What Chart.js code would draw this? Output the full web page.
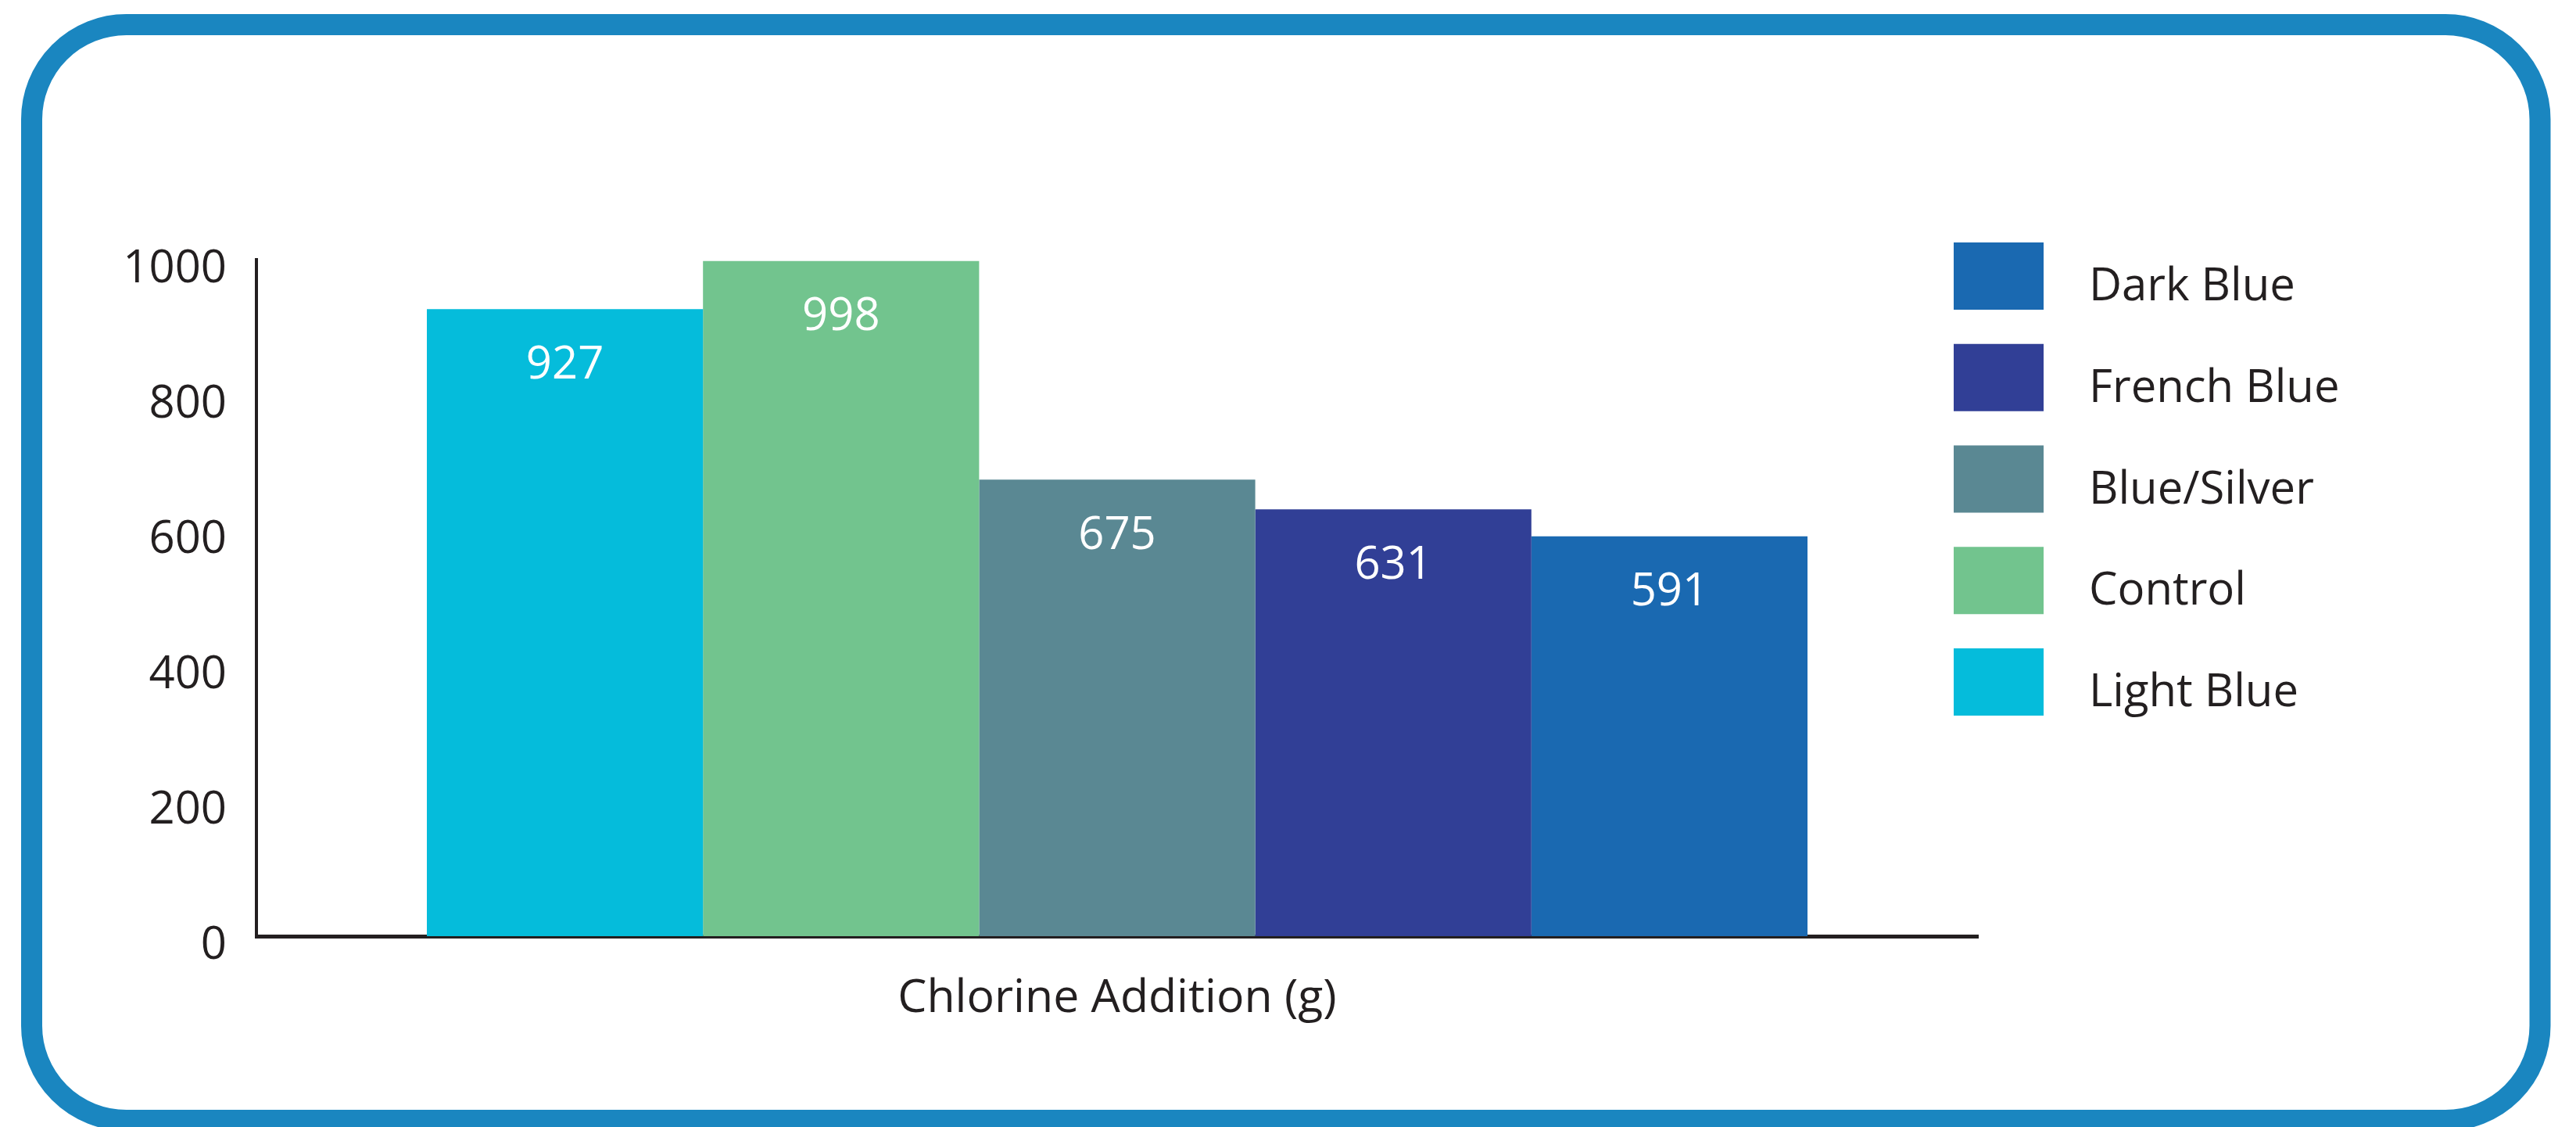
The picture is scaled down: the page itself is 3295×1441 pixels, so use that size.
<!DOCTYPE html>
<html>
<head>
<meta charset="utf-8">
<script src="https://cdn.jsdelivr.net/npm/chart.js@4.4.1/dist/chart.umd.min.js"></script>
<style>
  html, body { margin: 0; padding: 0; background: #ffffff; }
  canvas { display: block; }
</style>
</head>
<body>
<canvas id="c" width="3295" height="1441"></canvas>
<script>
const categories = ['Chlorine Addition (g)'];
const seriesNames = ['Light Blue', 'Control', 'Blue/Silver', 'French Blue', 'Dark Blue'];
const seriesValues = [927, 998, 675, 631, 591];
const seriesColors = ['#05bcdb', '#72c48e', '#5a8893', '#313f96', '#1a69b1'];
const yTickValues = [0, 200, 400, 600, 800, 1000];
const yTickLabels = ['0', '200', '400', '600', '800', '1000'];

const TEXT = '#231f20';
const FONT = 'Open Sans';

const frame = {
  id: 'frame',
  beforeDraw(chart) {
    const ctx = chart.ctx;
    ctx.save();
    ctx.fillStyle = '#ffffff';
    ctx.fillRect(0, 0, chart.width, chart.height);
    ctx.strokeStyle = '#1a86c0';
    ctx.lineWidth = 27;
    ctx.beginPath();
    ctx.roundRect(40.5, 31.5, 3249 - 40.5, 1432.5 - 31.5, 121);
    ctx.stroke();
    ctx.restore();
  }
};

const valueLabels = {
  id: 'valueLabels',
  afterDatasetsDraw(chart) {
    const ctx = chart.ctx;
    ctx.save();
    ctx.fillStyle = '#ffffff';
    ctx.font = '58px "' + FONT + '"';
    ctx.textAlign = 'center';
    ctx.textBaseline = 'middle';
    chart.data.datasets.forEach((ds, i) => {
      const meta = chart.getDatasetMeta(i);
      meta.data.forEach((bar, j) => {
        ctx.fillText(String(ds.data[j]), bar.x, bar.y + 72);
      });
    });
    ctx.restore();
  }
};

const sideLegend = {
  id: 'sideLegend',
  afterDraw(chart) {
    const ctx = chart.ctx;
    ctx.save();
    const n = chart.data.datasets.length;
    ctx.font = '58px "' + FONT + '"';
    ctx.textAlign = 'left';
    ctx.textBaseline = 'alphabetic';
    for (let k = 0; k < n; k++) {
      const ds = chart.data.datasets[n - 1 - k];
      const top = 310 + k * 129.75;
      ctx.fillStyle = ds.backgroundColor;
      ctx.fillRect(2499, top, 115, 86);
      ctx.fillStyle = TEXT;
      ctx.fillText(ds.label, 2672, top + 74);
    }
    ctx.restore();
  }
};

new Chart(document.getElementById('c'), {
  type: 'bar',
  data: {
    labels: categories,
    datasets: seriesNames.map((name, i) => ({
      label: name,
      data: [seriesValues[i]],
      backgroundColor: seriesColors[i],
      borderWidth: 0
    }))
  },
  options: {
    responsive: false,
    devicePixelRatio: 1,
    animation: false,
    events: [],
    layout: { padding: { left: 0, right: 765, top: 332, bottom: 0 } },
    datasets: { bar: { categoryPercentage: 0.802, barPercentage: 1.0 } },
    plugins: {
      legend: { display: false },
      tooltip: { enabled: false },
      title: { display: false }
    },
    scales: {
      x: {
        grid: { display: false, drawTicks: false },
        border: { display: true, color: TEXT, width: 5 },
        ticks: { color: TEXT, font: { family: FONT, size: 59 }, padding: 45 },
        afterFit(s) { s.height = 244; }
      },
      y: {
        min: 0,
        max: 1000,
        afterBuildTicks(s) { s.ticks = yTickValues.map(v => ({ value: v })); },
        grid: { display: false, drawTicks: false },
        border: { display: true, color: TEXT, width: 4 },
        ticks: {
          color: TEXT,
          font: { family: FONT, size: 58 },
          padding: 38,
          labelOffset: 12,
          callback: (v) => yTickLabels[yTickValues.indexOf(v)]
        },
        afterFit(s) { s.width = 328; }
      }
    }
  },
  plugins: [frame, valueLabels, sideLegend]
});
</script>
</body>
</html>
